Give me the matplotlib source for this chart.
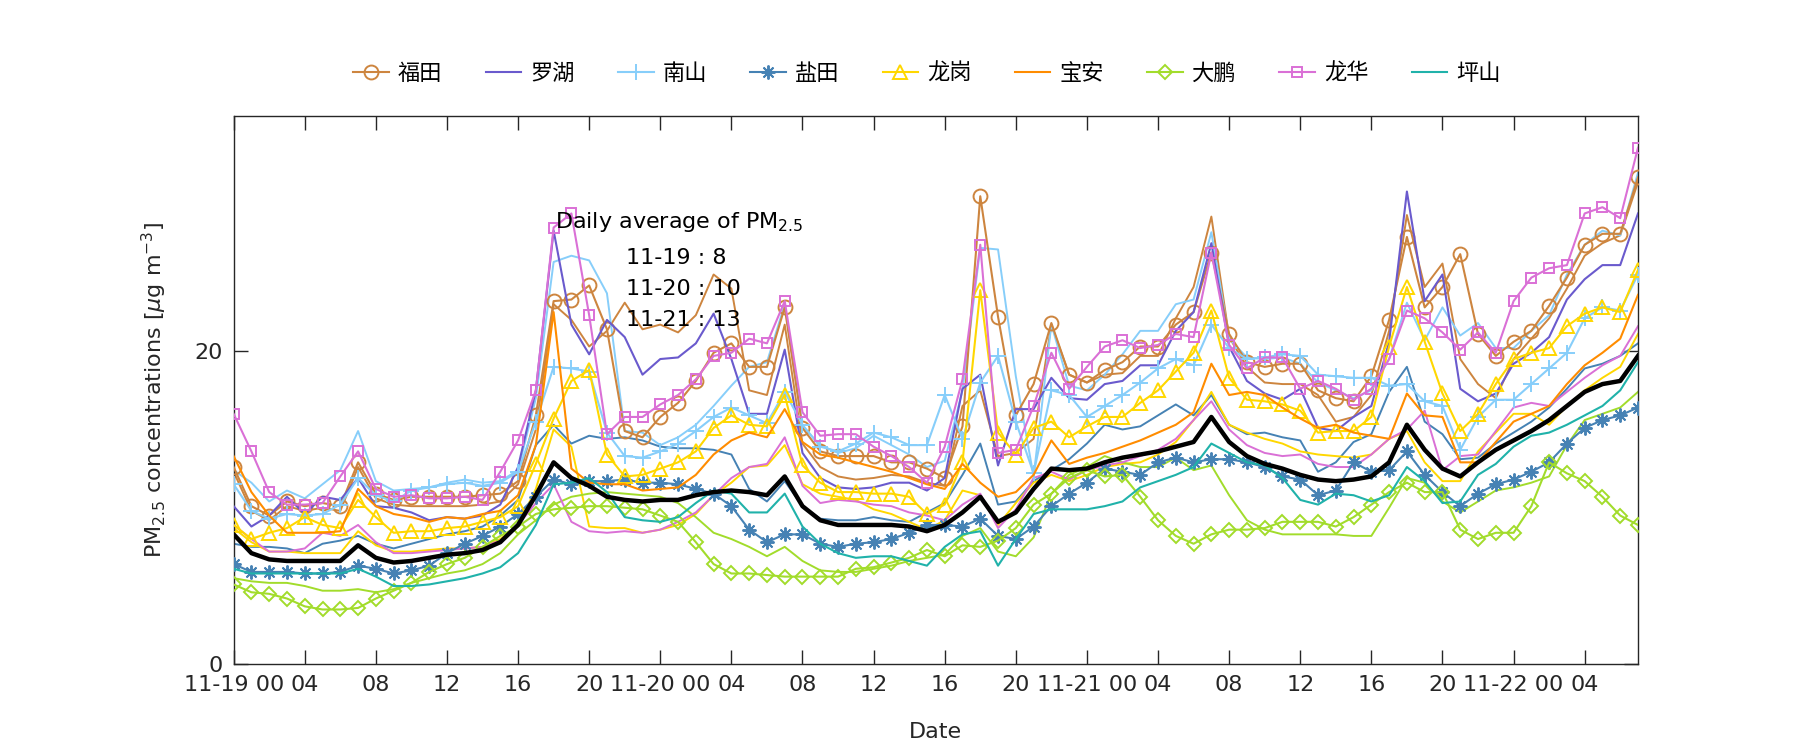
import numpy as np
import matplotlib
matplotlib.use("Agg")
import matplotlib.pyplot as plt

plt.rcParams['font.family'] = ['DejaVu Sans', 'Noto Sans CJK SC']
plt.rcParams['axes.unicode_minus'] = False

hours = np.arange(80)
tick_pos = list(range(0, 80, 4))
tick_labels = ['11-19 00', '04', '08', '12', '16', '20',
               '11-20 00', '04', '08', '12', '16', '20',
               '11-21 00', '04', '08', '12', '16', '20',
               '11-22 00', '04']

names = ['福田', '罗湖', '南山', '盐田', '龙岗', '宝安', '大鹏', '龙华', '坪山']
colors = ['#CD853F', '#6A5ACD', '#87CEFA', '#4682B4', '#FFD700',
          '#FF8C00', '#A2DC2B', '#DA70D6', '#20B2AA']
markers = ['o', None, '+', (8, 2, 0), '^', None, 'D', 's', None]
msizes = [10, 0, 11, 10, 10.5, 0, 7.5, 6.5, 0]

futian = [12.6, 10.1, 9.5, 10.4, 10.1, 10.3, 10.1, 12.9, 10.9, 10.5,
          10.7, 10.7, 10.7, 10.7, 10.8, 10.9, 11.7, 15.9, 23.2,
          23.3, 24.2, 21.4, 14.9, 14.5, 15.8, 16.7, 18.1, 19.9,
          20.5, 19.0, 19.0, 22.8, 15.1, 13.6, 13.3, 13.3, 13.3,
          12.9, 12.9, 12.5, 11.9, 15.2, 29.9, 22.2, 15.9, 17.9,
          21.8, 18.5, 18.0, 18.8, 19.3, 20.3, 20.3, 21.7, 22.5,
          26.3, 21.1, 19.3, 19.0, 19.2, 19.2, 17.5, 17.0, 16.8,
          18.4, 22.0, 27.3, 22.8, 24.1, 26.2, 21.1, 19.7, 20.6,
          21.3, 22.9, 24.7, 26.8, 27.5, 27.5, 31.1]
luohu = [10.1, 8.8, 9.5, 10.7, 9.6, 10.7, 10.5, 11.9, 10.1, 10.0,
         9.7, 9.2, 9.4, 9.3, 9.5, 10.2, 12.6, 17.5, 27.7,
         21.7, 19.8, 22.0, 20.9, 18.5, 19.5, 19.6, 20.5, 22.4,
         19.5, 16.0, 16.0, 20.1, 13.5, 11.9, 11.3, 11.2, 11.3,
         11.6, 11.6, 11.1, 11.9, 17.6, 18.5, 12.7, 16.3, 16.3,
         18.3, 17.0, 16.9, 17.9, 18.1, 19.1, 19.1, 21.3, 22.5,
         26.9, 20.3, 18.1, 17.3, 16.9, 17.6, 15.1, 14.9, 15.8,
         16.5, 20.6, 30.2, 23.2, 24.9, 17.6, 16.8, 17.3, 19.2,
         19.9, 20.9, 23.3, 24.6, 25.5, 25.5, 28.8]
nanshan = [11.5, 9.8, 9.3, 9.6, 9.5, 9.6, 10.2, 11.9, 10.8, 10.4,
           11.1, 11.3, 11.5, 11.6, 11.4, 11.6, 12.3, 15.5, 19.0,
           18.9, 18.7, 14.8, 13.3, 13.2, 13.6, 14.1, 14.9, 15.8,
           16.4, 15.9, 15.4, 17.4, 15.3, 13.9, 13.6, 14.1, 14.8,
           14.5, 14.0, 14.0, 17.2, 14.4, 18.0, 19.7, 15.5, 12.2,
           17.5, 17.2, 15.8, 16.5, 17.2, 18.0, 18.9, 19.5, 19.1,
           21.7, 20.2, 19.5, 19.6, 19.8, 19.7, 18.5, 18.4, 18.3,
           18.3, 17.8, 17.9, 16.8, 16.5, 13.7, 15.8, 16.9, 16.9,
           17.9, 18.9, 19.9, 22.1, 22.8, 22.6, 24.9]
yantian = [6.4, 5.9, 5.9, 5.9, 5.8, 5.8, 5.9, 6.3, 6.1, 5.8,
           6.0, 6.3, 7.1, 7.7, 8.2, 8.8, 9.6, 10.7, 11.8,
           11.5, 11.7, 11.7, 11.8, 11.6, 11.6, 11.5, 11.2, 10.9,
           10.1, 8.6, 7.8, 8.3, 8.3, 7.7, 7.5, 7.7, 7.8,
           8.0, 8.4, 8.9, 8.9, 8.8, 9.3, 8.2, 8.0, 8.8,
           10.1, 10.9, 11.6, 12.5, 12.3, 12.1, 12.9, 13.2, 12.9,
           13.1, 13.1, 12.9, 12.6, 12.0, 11.8, 10.8, 11.1, 12.9,
           12.3, 12.4, 13.6, 12.1, 11.0, 10.1, 10.9, 11.5, 11.8,
           12.3, 12.9, 14.1, 15.1, 15.6, 15.9, 16.4]
longgang = [8.9, 8.0, 8.4, 8.7, 9.4, 8.9, 8.7, 10.5, 9.4, 8.4,
            8.5, 8.5, 8.7, 8.8, 9.1, 9.4, 10.1, 12.8, 15.7,
            18.1, 18.8, 13.4, 12.0, 12.1, 12.5, 12.9, 13.6, 15.1,
            15.9, 15.3, 15.2, 17.2, 12.7, 11.6, 11.0, 11.0, 10.9,
            10.9, 10.7, 9.6, 10.2, 12.9, 23.9, 14.8, 13.4, 15.1,
            15.5, 14.5, 15.2, 15.8, 15.8, 16.7, 17.5, 18.7, 19.9,
            22.6, 18.3, 16.9, 16.8, 16.6, 16.2, 14.8, 14.9, 14.9,
            15.8, 20.3, 24.1, 20.6, 17.3, 14.9, 16.0, 17.9, 19.5,
            19.9, 20.2, 21.6, 22.4, 22.8, 22.5, 25.2]
baoan = [13.3, 11.0, 9.5, 8.4, 8.4, 8.4, 8.5, 11.2, 10.1, 9.6,
         9.4, 9.1, 9.4, 9.3, 9.6, 9.8, 10.8, 14.0, 22.5,
         12.5, 11.6, 11.5, 11.5, 11.1, 11.2, 11.3, 12.1, 13.4,
         14.3, 14.8, 14.5, 16.3, 14.2, 13.4, 13.2, 12.9, 12.6,
         12.3, 11.9, 11.5, 11.2, 12.8, 11.6, 10.7, 11.0, 12.1,
         14.3, 12.8, 13.2, 13.5, 13.9, 14.3, 14.8, 15.3, 16.1,
         19.2, 17.2, 17.4, 17.2, 16.4, 15.7, 15.1, 15.3, 14.8,
         14.6, 14.4, 17.3, 15.9, 15.8, 12.9, 12.9, 14.2, 15.5,
         16.0, 16.5, 17.9, 19.1, 19.9, 20.8, 23.6]
dapeng = [5.1, 4.6, 4.5, 4.2, 3.7, 3.5, 3.5, 3.6, 4.2, 4.7,
          5.2, 5.9, 6.4, 6.8, 7.5, 8.2, 8.8, 9.6, 9.9,
          10.0, 10.1, 10.1, 10.0, 9.9, 9.5, 9.1, 7.8, 6.4,
          5.8, 5.8, 5.7, 5.6, 5.6, 5.6, 5.6, 6.1, 6.2,
          6.5, 6.8, 7.3, 6.9, 7.6, 7.5, 7.9, 8.7, 10.2,
          10.9, 11.9, 12.4, 12.0, 12.1, 10.7, 9.2, 8.2, 7.7,
          8.3, 8.6, 8.6, 8.7, 9.1, 9.1, 9.1, 8.8, 9.4,
          10.2, 11.0, 11.6, 11.0, 11.0, 8.6, 8.0, 8.4, 8.4,
          10.1, 12.9, 12.2, 11.7, 10.7, 9.5, 8.9]
longhua = [16.0, 13.6, 11.0, 10.2, 10.2, 10.3, 12.0, 13.6, 11.2, 10.7,
           10.8, 10.6, 10.6, 10.7, 10.5, 12.3, 14.3, 17.5, 27.9,
           28.8, 22.3, 14.7, 15.8, 15.8, 16.6, 17.2, 18.2, 19.7,
           19.9, 20.8, 20.5, 23.2, 16.1, 14.6, 14.7, 14.7, 13.9,
           13.3, 12.6, 11.6, 13.9, 18.2, 26.8, 13.5, 13.7, 16.5,
           19.9, 17.6, 19.0, 20.3, 20.7, 20.2, 20.4, 21.1, 20.9,
           26.3, 20.4, 18.9, 19.6, 19.6, 17.6, 18.1, 17.6, 16.9,
           17.6, 19.5, 22.6, 22.1, 21.2, 20.1, 21.2, 19.9, 23.2,
           24.7, 25.3, 25.5, 28.8, 29.2, 28.5, 33.0]
pingshan = [6.1, 5.8, 5.8, 5.8, 5.8, 5.8, 5.8, 6.1, 5.6, 5.0,
            5.0, 5.1, 5.3, 5.5, 5.8, 6.2, 7.1, 8.9, 11.5,
            11.6, 11.9, 11.0, 9.4, 9.2, 9.1, 9.4, 10.3, 11.1,
            10.9, 9.7, 9.7, 10.9, 8.8, 7.7, 7.1, 6.8, 6.9,
            6.9, 6.6, 6.3, 7.5, 8.3, 8.5, 6.3, 8.0, 9.6,
            9.9, 9.9, 9.9, 10.1, 10.4, 11.3, 11.7, 12.1, 12.6,
            14.1, 13.5, 12.9, 12.7, 11.9, 10.5, 10.2, 10.9, 10.8,
            10.4, 10.8, 12.6, 11.7, 10.3, 10.4, 12.1, 12.8, 13.9,
            14.6, 14.8, 15.3, 15.9, 16.5, 17.5, 19.3]

# second (unmarked) lines sharing the station colours
futian_2 = [12.3, 9.8, 9.2, 10.1, 9.8, 10.0, 9.8, 12.6, 10.6, 10.2,
            10.1, 10.1, 10.1, 10.1, 10.2, 10.4, 11.5, 15.0, 23.0,
            22.0, 20.3, 21.3, 23.1, 21.4, 21.7, 21.2, 22.3, 24.9,
            24.0, 17.5, 17.2, 21.7, 14.1, 12.6, 12.0, 11.8, 11.9,
            12.1, 12.0, 11.6, 11.4, 16.5, 17.5, 13.3, 13.5, 14.4,
            21.7, 18.5, 18.0, 18.5, 18.6, 19.7, 19.7, 22.1, 24.1,
            28.6, 20.9, 19.0, 18.0, 17.9, 17.9, 17.2, 15.5, 15.8,
            17.2, 21.3, 28.7, 24.1, 25.6, 19.5, 17.9, 17.0, 19.5,
            20.8, 22.1, 24.0, 26.1, 26.9, 27.4, 30.8]
nanshan_2 = [12.4, 11.6, 10.4, 11.1, 10.6, 11.5, 12.4, 14.9, 11.7, 11.1,
             11.2, 11.3, 11.6, 11.8, 11.6, 11.7, 12.4, 17.0, 25.7,
             26.1, 25.8, 23.7, 14.9, 14.8, 14.0, 14.5, 15.3, 16.5,
             17.8, 19.0, 19.3, 23.0, 15.2, 14.0, 13.5, 13.8, 14.6,
             14.0, 13.4, 12.6, 13.0, 17.5, 26.6, 26.5, 18.4, 12.0,
             21.7, 17.8, 17.5, 18.5, 19.8, 21.3, 21.3, 23.0, 23.3,
             27.6, 20.8, 19.6, 19.5, 19.6, 19.2, 18.0, 17.5, 17.0,
             17.5, 19.5, 23.1, 20.7, 22.8, 21.0, 21.8, 20.2, 20.2,
             21.3, 22.3, 24.9, 26.8, 27.7, 27.4, 31.4]
yantian_2 = [7.7, 7.5, 7.5, 7.4, 7.1, 7.7, 7.9, 8.2, 7.7, 7.4,
             7.7, 8.0, 8.3, 8.5, 8.8, 9.5, 10.5, 14.0, 15.3,
             14.1, 14.6, 14.4, 14.5, 14.3, 13.9, 13.8, 13.8, 13.7,
             13.4, 11.2, 10.4, 11.7, 10.1, 9.3, 9.2, 9.2, 9.4,
             9.2, 9.1, 9.7, 10.3, 12.1, 14.1, 10.2, 10.4, 11.7,
             12.4, 13.1, 14.1, 15.3, 15.0, 15.2, 15.9, 16.6, 15.9,
             17.2, 15.3, 14.7, 14.8, 14.5, 14.3, 12.3, 12.9, 14.2,
             14.7, 17.4, 19.0, 15.5, 14.7, 13.1, 13.2, 14.1, 14.8,
             15.5, 16.4, 17.6, 18.9, 19.2, 19.7, 20.5]
longgang_2 = [8.7, 7.8, 7.2, 7.2, 7.1, 7.1, 7.1, 8.5, 7.6, 7.2,
              7.2, 7.3, 7.4, 7.4, 7.5, 8.0, 8.9, 11.2, 15.0,
              13.9, 8.8, 8.7, 8.7, 8.4, 8.6, 8.9, 9.6, 10.8,
              11.6, 12.6, 12.7, 14.0, 11.5, 10.9, 10.7, 10.5, 9.9,
              9.6, 9.1, 8.6, 9.2, 11.1, 10.8, 8.9, 10.3, 11.6,
              12.1, 11.7, 12.1, 12.6, 12.8, 12.9, 13.4, 14.2, 15.6,
              17.4, 15.3, 14.8, 14.4, 14.1, 13.6, 13.4, 13.3, 13.2,
              13.4, 14.4, 14.9, 12.9, 11.7, 11.7, 13.6, 14.8, 16.0,
              16.0, 15.3, 16.5, 17.5, 18.3, 19.0, 21.1]
dapeng_2 = [5.5, 5.3, 5.2, 5.2, 5.0, 4.7, 4.7, 4.8, 4.6, 4.8,
            5.2, 5.5, 5.8, 6.0, 6.4, 7.1, 8.3, 9.2, 10.2,
            10.7, 10.9, 11.0, 10.9, 10.8, 10.7, 10.3, 9.4, 8.4,
            8.0, 7.5, 6.9, 7.5, 6.6, 6.0, 5.9, 5.9, 6.1,
            6.3, 6.6, 6.8, 7.0, 8.2, 8.7, 7.2, 6.9, 8.1,
            10.9, 12.1, 12.6, 13.3, 12.9, 12.6, 12.6, 13.2, 12.4,
            12.7, 10.8, 9.2, 8.6, 8.3, 8.3, 8.3, 8.3, 8.2,
            8.2, 10.0, 11.9, 11.6, 10.4, 9.7, 10.4, 11.1, 11.3,
            11.6, 12.0, 14.0, 15.6, 16.0, 16.4, 17.4]
longhua_2 = [8.9, 8.0, 7.2, 7.2, 7.4, 8.4, 8.2, 8.9, 7.8, 7.1,
             7.1, 7.2, 7.3, 7.4, 7.5, 7.9, 8.9, 10.3, 11.5,
             9.1, 8.5, 8.4, 8.5, 8.4, 8.6, 9.1, 9.7, 10.8,
             11.9, 12.6, 12.8, 14.5, 11.4, 10.3, 10.5, 10.4, 10.2,
             10.1, 9.7, 9.5, 9.2, 10.2, 10.9, 8.7, 9.9, 11.9,
             12.3, 11.8, 12.4, 12.7, 12.9, 13.3, 13.7, 14.4, 15.6,
             16.8, 15.0, 14.0, 13.5, 13.3, 13.4, 12.8, 12.6, 12.6,
             13.4, 14.4, 15.0, 16.2, 12.4, 13.3, 13.4, 14.9, 16.4,
             16.7, 16.5, 17.4, 18.3, 19.1, 19.7, 21.6]
average = [8.3, 7.1, 6.7, 6.6, 6.6, 6.6, 6.6, 7.6, 6.8, 6.5,
           6.6, 6.8, 7.0, 7.1, 7.3, 7.8, 8.9, 10.8, 12.9,
           11.9, 11.4, 10.7, 10.5, 10.4, 10.5, 10.5, 10.8, 11.0,
           11.1, 11.0, 10.8, 12.0, 10.1, 9.2, 8.9, 8.9, 8.9,
           8.9, 8.8, 8.5, 8.9, 9.7, 10.7, 9.1, 9.7, 11.2,
           12.5, 12.4, 12.5, 12.9, 13.2, 13.4, 13.6, 13.9, 14.2,
           15.8, 14.2, 13.3, 12.8, 12.5, 12.1, 11.8, 11.7, 11.8,
           12.0, 12.9, 15.3, 13.7, 12.5, 12.0, 12.9, 13.7, 14.3,
           14.9, 15.6, 16.5, 17.4, 17.9, 18.1, 19.7]

main_series = [futian, luohu, nanshan, yantian, longgang, baoan, dapeng, longhua, pingshan]
second_series = [(futian_2, 0), (nanshan_2, 2), (yantian_2, 3),
                 (longgang_2, 4), (dapeng_2, 6), (longhua_2, 7)]

daily_days = ['11-19', '11-20', '11-21']
daily_vals = [8, 10, 13]

fig = plt.figure(figsize=(18, 7.5), dpi=100)
ax = fig.add_axes([0.1298, 0.1143, 0.7802, 0.7305])

for vals, ci in second_series:
    ax.plot(hours, vals, color=colors[ci], lw=1.4, zorder=2)

handles = []
for vals, name, c, m, s in zip(main_series, names, colors, markers, msizes):
    if m is None:
        h, = ax.plot(hours, vals, color=c, lw=1.5, label=name, zorder=3)
    else:
        h, = ax.plot(hours, vals, color=c, lw=1.5, marker=m, ms=s,
                     mfc='none', mec=c, mew=1.4, label=name, zorder=3)
    handles.append(h)

ax.plot(hours, average, color='black', lw=3.2, zorder=4)

ax.set_xlim(0, 79)
ax.set_ylim(0, 35)
ax.set_xticks(tick_pos)
ax.set_xticklabels(tick_labels)
ax.set_yticks([0, 20])
ax.tick_params(direction='in', length=10, width=1.0, top=True, right=True,
               labelsize=16, colors='#262626', pad=8)
for sp in ax.spines.values():
    sp.set_linewidth(1.0)
    sp.set_color('#262626')

ax.set_xlabel('Date', fontsize=16, color='#262626', labelpad=19)
ax.set_ylabel(r'PM$_{2.5}$ concentrations [$\mu$g m$^{-3}$]', fontsize=16,
              color='#262626', labelpad=18)

ax.text(18.1, 27.9, r'Daily average of PM$_{2.5}$', fontsize=16, va='baseline', ha='left')
for i, (d, v) in enumerate(zip(daily_days, daily_vals)):
    ax.text(22.05, 25.6 - 2.0 * i, f'{d} : {v}', fontsize=16, va='baseline', ha='left')

fig.legend(handles=handles, labels=names, loc='center', ncol=9,
           bbox_to_anchor=(0.515, 0.902), bbox_transform=fig.transFigure,
           frameon=False, fontsize=16, handlelength=1.6, columnspacing=1.95,
           handletextpad=0.4)

fig.savefig('out.png', dpi=100)
